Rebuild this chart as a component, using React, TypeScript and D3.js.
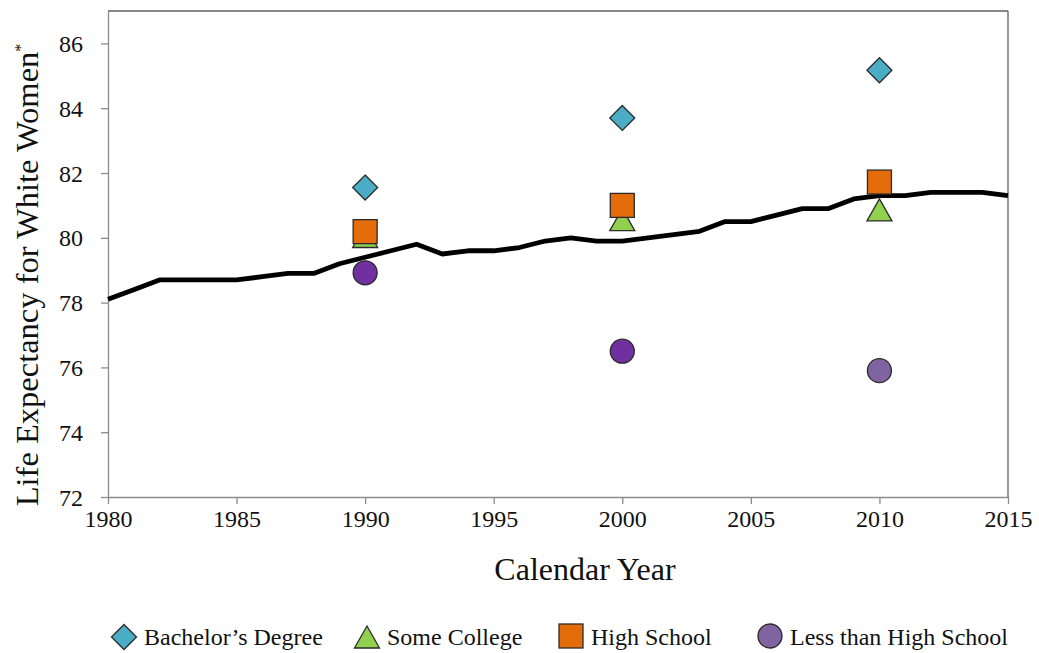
import React, { useEffect, useRef } from 'react';
import * as d3 from 'd3';

// life expectancy line (all white women)
const years = [
  1980, 1981, 1982, 1983, 1984, 1985, 1986, 1987, 1988, 1989,
  1990, 1991, 1992, 1993, 1994, 1995, 1996, 1997, 1998, 1999,
  2000, 2001, 2002, 2003, 2004, 2005, 2006, 2007, 2008, 2009,
  2010, 2011, 2012, 2013, 2014, 2015,
];
const lifeExp = [
  78.1, 78.4, 78.7, 78.7, 78.7, 78.7, 78.8, 78.9, 78.9, 79.2,
  79.4, 79.6, 79.8, 79.5, 79.6, 79.6, 79.7, 79.9, 80.0, 79.9,
  79.9, 80.0, 80.1, 80.2, 80.5, 80.5, 80.7, 80.9, 80.9, 81.2,
  81.3, 81.3, 81.4, 81.4, 81.4, 81.3,
];

// education groups
const markerYears = [1990, 2000, 2010];
const bachelors = [81.55, 83.7, 85.17];
const someCollege = [80.04, 80.56, 80.86];
const highSchool = [80.19, 81.0, 81.72];
const lessThanHS = [78.92, 76.5, 75.9];

const xTicks = [1980, 1985, 1990, 1995, 2000, 2005, 2010, 2015];
const yTicks = [72, 74, 76, 78, 80, 82, 84, 86];

const legendLabels = ["Bachelor\u2019s Degree", 'Some College', 'High School', 'Less than High School'];

const FONT = '"Liberation Serif", "DejaVu Serif", serif';
const INK = '#111';

export default function App() {
  const svgRef = useRef<SVGSVGElement>(null);

  useEffect(() => {
    if (!svgRef.current) return;
    const svg = d3.select(svgRef.current);
    svg.selectAll('*').remove();

    const W = 1039;
    const H = 653;
    const left = 108;
    const right = 1008;
    const top = 11;
    const bottom = 497;

    const x = d3.scaleLinear().domain([1980, 2015]).range([left, right]);
    const y = d3.scaleLinear().domain([72, 87]).range([bottom, top]);

    svg.attr('width', W).attr('height', H);

    // frame: top + right
    svg.append('line')
      .attr('x1', left).attr('x2', right).attr('y1', top).attr('y2', top)
      .attr('stroke', '#5f5f5f').attr('stroke-width', 1.3);
    svg.append('line')
      .attr('x1', right).attr('x2', right).attr('y1', top).attr('y2', bottom)
      .attr('stroke', '#5f5f5f').attr('stroke-width', 1.3);

    // y axis
    const yAxis = svg.append('g')
      .attr('transform', `translate(${left},0)`)
      .attr('font-family', null)
      .call(d3.axisLeft(y).tickValues(yTicks).tickSize(7).tickPadding(18).tickSizeOuter(0));
    yAxis.attr('font-family', FONT).attr('font-size', 24);
    yAxis.select('.domain').attr('stroke', '#8c8c8c').attr('stroke-width', 1.3);
    yAxis.selectAll('.tick line').attr('stroke', '#8c8c8c').attr('stroke-width', 1.3);
    yAxis.selectAll('.tick text')
      .attr('fill', INK)
      .style('font-family', FONT)
      .style('font-size', '24px')
      .attr('dy', '0.34em');

    // x axis
    const xAxis = svg.append('g')
      .attr('transform', `translate(0,${bottom})`)
      .call(d3.axisBottom(x).tickValues(xTicks).tickFormat(d3.format('d')).tickSize(7).tickPadding(6).tickSizeOuter(0));
    xAxis.attr('font-family', FONT).attr('font-size', 24);
    xAxis.select('.domain').attr('stroke', '#8c8c8c').attr('stroke-width', 1.3);
    xAxis.selectAll('.tick line').attr('stroke', '#8c8c8c').attr('stroke-width', 1.3);
    xAxis.selectAll('.tick text')
      .attr('fill', INK)
      .style('font-family', FONT)
      .style('font-size', '24px');

    // axis titles
    svg.append('text')
      .attr('x', 585)
      .attr('y', 580)
      .attr('text-anchor', 'middle')
      .style('font-family', FONT)
      .style('font-size', '32px')
      .attr('fill', INK)
      .text('Calendar Year');

    const yt = svg.append('text')
      .attr('transform', `translate(38,275) rotate(-90)`)
      .attr('text-anchor', 'middle')
      .style('font-family', FONT)
      .style('font-size', '32.5px')
      .attr('fill', INK);
    yt.append('tspan').text('Life Expectancy for White Women');
    yt.append('tspan').attr('dy', -12).style('font-size', '16px').text('*');

    // line
    const line = d3.line<number>()
      .x((_, i) => x(years[i]))
      .y(d => y(d));
    svg.append('path')
      .datum(lifeExp)
      .attr('d', line)
      .attr('fill', 'none')
      .attr('stroke', '#000')
      .attr('stroke-width', 4.8)
      .attr('stroke-linejoin', 'round');

    // marker drawers
    const stroke = '#2b2b2b';
    const diamond = (g: any, cx: number, cy: number, fill: string) =>
      g.append('path')
        .attr('d', `M${cx},${cy - 12.5}L${cx + 12.5},${cy}L${cx},${cy + 12.5}L${cx - 12.5},${cy}Z`)
        .attr('fill', fill).attr('stroke', stroke).attr('stroke-width', 1.3);
    const triangle = (g: any, cx: number, cy: number, fill: string) =>
      g.append('path')
        .attr('d', `M${cx},${cy - 11}L${cx + 12.5},${cy + 11}L${cx - 12.5},${cy + 11}Z`)
        .attr('fill', fill).attr('stroke', stroke).attr('stroke-width', 1.3);
    const square = (g: any, cx: number, cy: number, fill: string) =>
      g.append('rect')
        .attr('x', cx - 12).attr('y', cy - 12).attr('width', 24).attr('height', 24)
        .attr('fill', fill).attr('stroke', stroke).attr('stroke-width', 1.3);
    const circle = (g: any, cx: number, cy: number, fill: string) =>
      g.append('circle')
        .attr('cx', cx).attr('cy', cy).attr('r', 12)
        .attr('fill', fill).attr('stroke', stroke).attr('stroke-width', 1.3);

    const blue = '#4bacc6';
    const green = '#92d050';
    const orange = '#e46c0a';
    const purpleDark = '#7030a0';
    const purple = '#8064a2';

    const marks = svg.append('g');
    markerYears.forEach((yr, i) => triangle(marks, x(yr), y(someCollege[i]), green));
    markerYears.forEach((yr, i) => square(marks, x(yr), y(highSchool[i]), orange));
    markerYears.forEach((yr, i) => diamond(marks, x(yr), y(bachelors[i]), blue));
    markerYears.forEach((yr, i) =>
      circle(marks, x(yr), y(lessThanHS[i]), yr === 2010 ? purple : purpleDark));

    // legend
    const legend = svg.append('g');
    const lx = [124, 367, 571, 770];
    const ly = 637;
    diamond(legend, lx[0], ly, blue);
    triangle(legend, lx[1], ly, green);
    square(legend, lx[2], ly - 1, orange);
    circle(legend, lx[3], ly - 1, purple);
    legendLabels.forEach((lab, i) => {
      legend.append('text')
        .attr('x', lx[i] + 20)
        .attr('y', ly + 8)
        .style('font-family', FONT)
        .style('font-size', '24px')
        .attr('fill', INK)
        .text(lab);
    });
  }, []);

  return (
    <svg
      ref={svgRef}
      style={{ position: 'absolute', left: 0, top: 0, background: '#fff' }}
    />
  );
}
